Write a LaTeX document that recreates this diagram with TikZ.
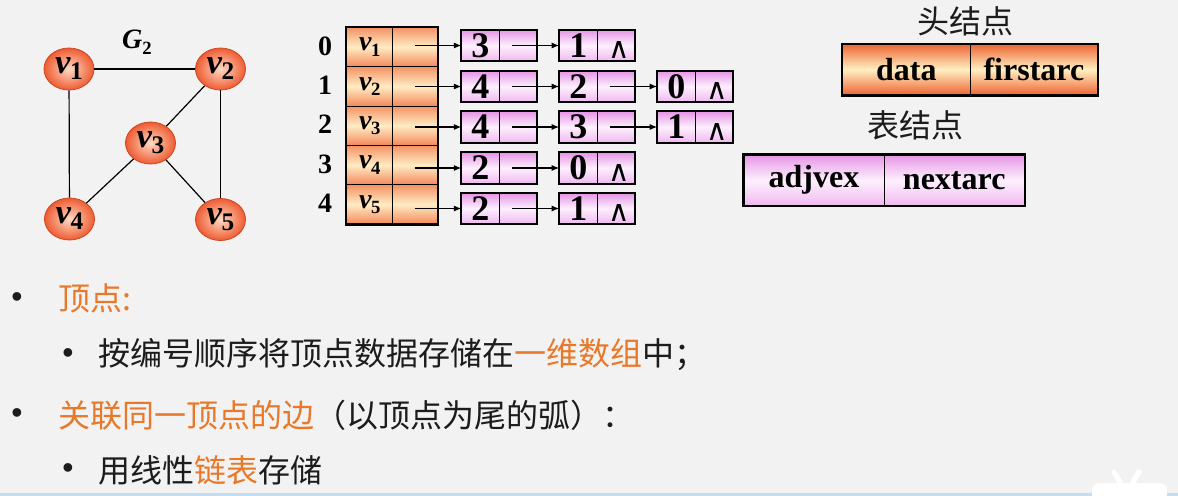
\documentclass[tikz,border=0pt]{standalone}
\usepackage{fontspec}
\setmainfont{Liberation Serif}
\newfontfamily\cjk{Noto Sans CJK SC}
\newfontfamily\sansb{Liberation Sans}
\newfontfamily\djv{DejaVu Sans}
\usetikzlibrary{shapes.geometric,arrows.meta}

\definecolor{bg}{RGB}{242,242,242}
\definecolor{hlorange}{RGB}{232,121,43}
\definecolor{txt}{RGB}{28,28,28}
\definecolor{nodeout}{RGB}{238,92,50}
\definecolor{nodein}{RGB}{255,218,196}
\definecolor{nodeedge}{RGB}{205,70,35}
\definecolor{headtop}{RGB}{244,146,100}
\definecolor{headmid}{RGB}{255,236,196}
\definecolor{headbot}{RGB}{244,136,90}
\definecolor{pinktop}{RGB}{230,150,230}
\definecolor{pinkmid}{RGB}{253,240,253}
\definecolor{pinkbot}{RGB}{240,185,240}
\definecolor{datatop}{RGB}{238,100,50}
\definecolor{datamid}{RGB}{255,240,195}
\definecolor{blueline}{RGB}{195,222,242}

\newcommand\vlab[4]{{\fontsize{#1}{#1}\selectfont\bfseries\itshape v}\kern-0.3pt\raisebox{-#3}{\fontsize{#2}{#2}\selectfont\bfseries #4}}
\newcommand\lnode[4]{%
  \node[lcell] (#1a) at (#2-18.75,#3) {#4};
  \node[lcell] (#1p) at (#2+18.75,#3) {};
  \draw[frame] (#1a.north west) rectangle (#1p.south east);}
\newcommand\nil[1]{\node[nilsym] (#1n) at ([xshift=2.8pt,yshift=-3.4pt]#1p.center) {∧};}

\begin{document}
\begin{tikzpicture}[x=0.75pt,y=-0.75pt,
  vert/.style={ellipse, draw=nodeedge, line width=0.6pt, inner color=nodein, outer color=nodeout, minimum width=37.5pt, minimum height=31.5pt, inner sep=0},
  hcell/.style={draw, line width=0.7pt, top color=headtop, bottom color=headbot, middle color=headmid, minimum height=29.5pt, inner sep=0},
  lcell/.style={draw, line width=0.7pt, top color=pinktop, bottom color=pinkbot, middle color=pinkmid, minimum width=28.1pt, minimum height=23pt, inner sep=0, font=\fontsize{27}{27}\selectfont\bfseries},
  dcell/.style={draw, line width=0.7pt, top color=datatop, bottom color=datatop, middle color=datamid, minimum height=38.2pt, inner sep=0, font=\fontsize{24}{26}\selectfont\bfseries},
  pcell/.style={draw, line width=0.7pt, top color=pinktop, bottom color=pinkbot, middle color=pinkmid, minimum height=38pt, inner sep=0, font=\fontsize{24}{26}\selectfont\bfseries},
  frame/.style={draw, line width=1.6pt},
  nilsym/.style={inner sep=0, font=\djv\fontsize{22}{22}\selectfont},
  ptr/.style={-{Latex[length=5.5pt,width=4.5pt]}, line width=0.8pt},
  gedge/.style={line width=0.9pt},
  idx/.style={inner sep=0, font=\fontsize{21}{22}\selectfont\bfseries},
  cjklab/.style={inner sep=0, font=\cjk\fontsize{24}{26}\selectfont, text=txt},
  btext/.style={anchor=west, inner sep=0, font=\cjk\fontsize{24}{28}\selectfont, text=txt},
  bul/.style={inner sep=0, font=\sansb\fontsize{24}{24}\selectfont, text=txt}]

\useasboundingbox (0,0) rectangle (1178,496);
\fill[bg] (0,0) rectangle (1178,496);

% ---- graph G2
\node[inner sep=0] (g2) at (137,42) {\fontsize{21}{21}\selectfont\bfseries\itshape G\raisebox{-4.5pt}{\fontsize{14}{14}\selectfont\upshape 2}};
\node[vert] (v1) at (69,69) {\vlab{26pt}{19pt}{4.5pt}{1}};
\node[vert] (v2) at (220.5,69) {\vlab{26pt}{19pt}{4.5pt}{2}};
\node[vert] (v3) at (150.5,143) {\vlab{26pt}{19pt}{4.5pt}{3}};
\node[vert] (v4) at (69.5,219) {\vlab{26pt}{19pt}{4.5pt}{4}};
\node[vert] (v5) at (220.5,219.5) {\vlab{26pt}{19pt}{4.5pt}{5}};
\draw[gedge] (v1) -- (v2);
\draw[gedge] (v1) -- (v4);
\draw[gedge] (v2) -- (v3);
\draw[gedge] (v2) -- (v5);
\draw[gedge] (v3) -- (v4);
\draw[gedge] (v3) -- (v5);

% ---- head array
\foreach \i/\y in {0/47.0,1/86.35,2/125.7,3/165.05,4/204.4}{
  \pgfmathtruncatemacro\k{\i+1}
  \node[hcell, minimum width=34.5pt] (h\i d) at (369.7,\y) {\vlab{21pt}{14pt}{4pt}{\k}};
  \node[hcell, minimum width=33.75pt] (h\i p) at (415.2,\y) {};
  \node[idx] (i\i) at (325,\y-1) {\i};
}
\draw[frame] (h0d.north west) rectangle (h4p.south east);

% ---- adjacency lists
\lnode{r0c1}{499.2}{45.5}{3}
\lnode{r0c2}{597}{45.5}{1} \nil{r0c2}
\lnode{r1c1}{499.2}{86.5}{4}
\lnode{r1c2}{597}{86.5}{2}
\lnode{r1c3}{695}{86.5}{0} \nil{r1c3}
\lnode{r2c1}{499.2}{127}{4}
\lnode{r2c2}{597}{127}{3}
\lnode{r2c3}{695}{127}{1} \nil{r2c3}
\lnode{r3c1}{499.2}{168}{2}
\lnode{r3c2}{597}{168}{0} \nil{r3c2}
\lnode{r4c1}{499.2}{208.5}{2}
\lnode{r4c2}{597}{208.5}{1} \nil{r4c2}

\foreach \i in {0,1,2,3,4}{
  \draw[ptr] (h\i p.center |- r\i c1a.west) -- (r\i c1a.west);
  \draw[ptr] ([xshift=-4.5pt]r\i c1p.center) -- (r\i c2a.west);
}
\draw[ptr] ([xshift=-4.5pt]r1c2p.center) -- (r1c3a.west);
\draw[ptr] ([xshift=-4.5pt]r2c2p.center) -- (r2c3a.west);

% ---- node formats
\node[cjklab] (headlab) at (965,21.5) {头结点};
\node[dcell, minimum width=95.5pt] (data) at (906.4,69.5) {data};
\node[dcell, minimum width=95.8pt] (first) at (1033.9,69.5) {firstarc};
\draw[frame] (data.north west) rectangle (first.south east);
\node[cjklab] (tablab) at (915,125) {表结点};
\node[pcell, minimum width=105pt] (adj) at (814,180.3) {adjvex};
\node[pcell, minimum width=105.2pt] (next) at (954.2,180.3) {nextarc};
\draw[frame] (adj.north west) rectangle (next.south east);

% ---- bullet text
\node[bul] (b1) at (17,300) {•};
\node[btext, text=hlorange] (t1) at (58,298) {顶点:};
\node[bul] (b2) at (68,356) {•};
\node[btext] (t2) at (98,355) {按编号顺序将顶点数据存储在\textcolor{hlorange}{一维数组}中；};
\node[bul] (b3) at (17,416) {•};
\node[btext] (t3) at (58,415) {\textcolor{hlorange}{关联同一顶点的边}（以顶点为尾的弧）：};
\node[bul] (b4) at (68,471) {•};
\node[btext] (t4) at (98,470) {用线性\textcolor{hlorange}{链表}存储};

% ---- bottom strip and watermark
\fill[blueline] (0,493) rectangle (1178,496);
\draw[white, line width=4pt, line cap=round] (1114,472) -- (1120,482) (1139,472) -- (1133,482);
\fill[white, rounded corners=5pt] (1092,483) rectangle (1167,502);
\end{tikzpicture}
\end{document}
